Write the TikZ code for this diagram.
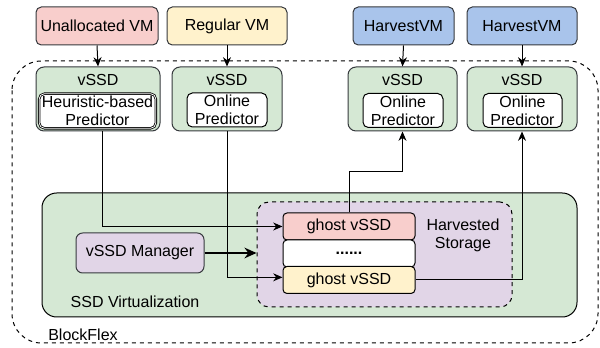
\documentclass[tikz,border=0pt]{standalone}
\usepackage{fontspec}
\setmainfont{Liberation Sans}
\usetikzlibrary{arrows.meta,calc}
\definecolor{redfill}{HTML}{F8CECC}
\definecolor{yellowfill}{HTML}{FFF2CC}
\definecolor{bluefill}{HTML}{A9C4EB}
\definecolor{greenfill}{HTML}{D5E8D4}
\definecolor{purplefill}{HTML}{E1D5E7}
\definecolor{darkline}{HTML}{36393D}
\tikzset{
    vmbox/.style={draw=darkline,rounded corners=4pt,minimum height=28.5pt,align=center,line width=0.75pt},
    vssdbox/.style={draw=darkline,fill=greenfill,rounded corners=6pt,minimum height=48pt,line width=0.75pt},
    predbox/.style={draw,fill=white,rounded corners=4pt,align=center,line width=0.75pt,inner sep=0pt},
    ghostbox/.style={draw,rounded corners=3pt,minimum width=99pt,minimum height=20.25pt,line width=0.75pt,inner sep=0pt},
    conn/.style={-{Stealth[length=7pt,width=6pt]},line width=0.75pt},
}
\begin{document}
\begin{tikzpicture}[x=0.75pt,y=-0.75pt,font=\fontsize{12pt}{13.5pt}\selectfont]
    \useasboundingbox (0,0) rectangle (600,348);
    %draw outer regions
    \draw[dashed,line width=0.75pt,rounded corners=22pt] (12,61) rectangle (598,343);
    \draw[fill=greenfill,draw=black,line width=0.75pt,rounded corners=11pt] (42,193) rectangle (577,317);
    \node (harvest) [draw,dashed,fill=purplefill,rounded corners=9pt,line width=0.75pt,minimum width=191.25pt,minimum height=78.75pt] at (384.5,254.5) {};
    \node at (463,235) [align=center] {Harvested\\Storage};
    \node at (135,302) {SSD Virtualization};
    \node at (83,335) {BlockFlex};
    %draw vm boxes
    \node (vm1) [vmbox,fill=redfill,minimum width=91.5pt] at (97,26) {Unallocated VM};
    \node (vm2) [vmbox,fill=yellowfill,minimum width=90pt] at (227,26) {Regular VM};
    \node (vm3) [vmbox,fill=bluefill,minimum width=75.75pt] at (403.5,26) {HarvestVM};
    \node (vm4) [vmbox,fill=bluefill,minimum width=82.5pt] at (522,26) {HarvestVM};
    %draw vssd boxes
    \node (vssd1) [vssdbox,minimum width=93pt] at (98,99) {};
    \node (vssd2) [vssdbox,minimum width=82.5pt] at (227,99) {};
    \node (vssd3) [vssdbox,minimum width=81.75pt] at (402.5,99) {};
    \node (vssd4) [vssdbox,minimum width=82.5pt] at (522,99) {};
    \foreach \i in {1,2,3,4}
        {%
            \node at ($(vssd\i.north)+(0,13)$) {vSSD};
        }
    \node (pred1) [predbox,double,line width=0.6pt,double distance=0.6pt,minimum width=87.5pt,minimum height=26pt] at (97.5,111) {Heuristic-based\\Predictor};
    \node (pred2) [predbox,minimum width=60pt,minimum height=25.5pt] at (227,110) {Online\\Predictor};
    \node (pred3) [predbox,minimum width=60pt,minimum height=25.5pt] at (403,110.5) {Online\\Predictor};
    \node (pred4) [predbox,minimum width=59.25pt,minimum height=25.5pt] at (522.5,110.5) {Online\\Predictor};
    %draw storage parts
    \node (ghost1) [ghostbox,fill=redfill] at (349,226.5) {ghost vSSD};
    \node (dots) [ghostbox,fill=white] at (349,253.5) {\textbf{......}};
    \node (ghost2) [ghostbox,fill=yellowfill] at (349,280) {ghost vSSD};
    \node (manager) [draw=darkline,fill=purplefill,rounded corners=5pt,line width=0.75pt,minimum width=96pt,minimum height=30pt] at (140,253) {vSSD Manager};
    %draw lines
    \foreach \i in {1,2,3,4}
        {%
            \draw[conn] (vm\i.south) -- (vssd\i.north);
        }
    \draw[conn] ([xshift=3pt]vssd1.south) |- (ghost1.west);
    \draw[conn] (vssd2.south) |- ([yshift=2pt]ghost2.west);
    \draw[conn] (ghost1.north) -- ++(0,-41) -| (vssd3.south);
    \draw[conn] (ghost2.east) -| (vssd4.south);
    \draw[-{Stealth[length=9pt,width=8pt]},line width=1.5pt] (manager.east) -- (manager.east -| harvest.west);
\end{tikzpicture}
\end{document}
